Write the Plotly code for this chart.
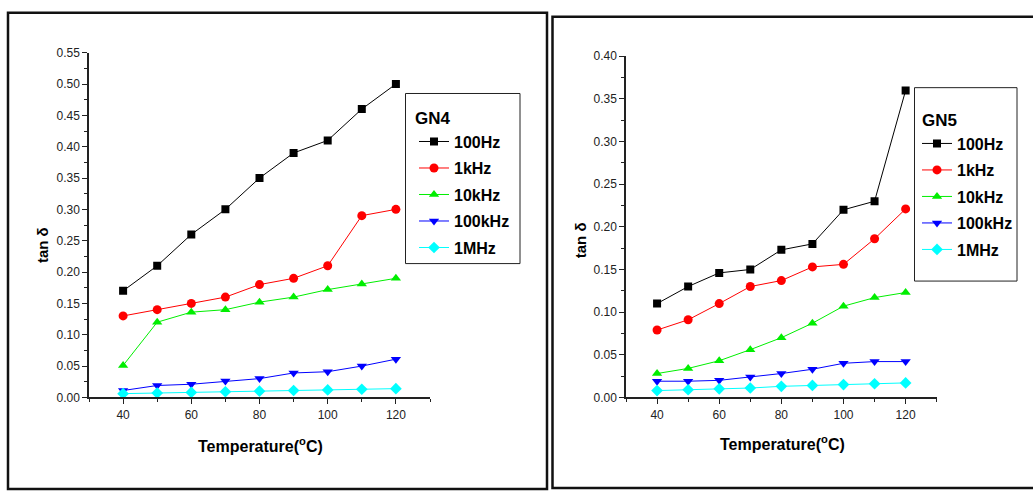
import plotly.graph_objects as go

W, H = 1033, 498

temps = [40, 50, 60, 70, 80, 90, 100, 110, 120]
series_names = ["100Hz", "1kHz", "10kHz", "100kHz", "1MHz"]

gn4_100Hz = [0.17, 0.21, 0.26, 0.30, 0.35, 0.39, 0.41, 0.46, 0.50]
gn4_1kHz = [0.13, 0.14, 0.15, 0.16, 0.18, 0.19, 0.21, 0.29, 0.30]
gn4_10kHz = [0.051, 0.120, 0.136, 0.140, 0.152, 0.160, 0.172, 0.181, 0.190]
gn4_100kHz = [0.011, 0.019, 0.021, 0.026, 0.030, 0.039, 0.041, 0.050, 0.061]
gn4_1MHz = [0.006, 0.007, 0.008, 0.009, 0.010, 0.011, 0.012, 0.013, 0.014]

gn5_100Hz = [0.110, 0.130, 0.146, 0.150, 0.173, 0.180, 0.220, 0.230, 0.360]
gn5_1kHz = [0.079, 0.091, 0.110, 0.130, 0.137, 0.153, 0.156, 0.186, 0.221]
gn5_10kHz = [0.028, 0.034, 0.043, 0.056, 0.070, 0.087, 0.107, 0.117, 0.123]
gn5_100kHz = [0.019, 0.019, 0.020, 0.024, 0.028, 0.033, 0.040, 0.042, 0.042]
gn5_1MHz = [0.008, 0.009, 0.010, 0.011, 0.013, 0.014, 0.015, 0.016, 0.017]

colors = ["#000000", "#ff0000", "#00ee00", "#0000ff", "#00ffff"]
symbols = ["square", "circle", "triangle-up", "triangle-down", "diamond"]
msizes = [8, 9, 9, 9, 9]

gn4 = [gn4_100Hz, gn4_1kHz, gn4_10kHz, gn4_100kHz, gn4_1MHz]
gn5 = [gn5_100Hz, gn5_1kHz, gn5_10kHz, gn5_100kHz, gn5_1MHz]

FONT = "Liberation Sans, Arial, sans-serif"


def px(x):
    return x / W


def py(y):
    return 1 - y / H


fig = go.Figure()

for i, name in enumerate(series_names):
    fig.add_trace(go.Scatter(
        x=temps, y=gn4[i], name=name, mode="lines+markers",
        line=dict(color=colors[i], width=1),
        marker=dict(symbol=symbols[i], size=msizes[i], color=colors[i]),
        xaxis="x", yaxis="y", legend="legend", legendgroup="a%d" % i))
for i, name in enumerate(series_names):
    fig.add_trace(go.Scatter(
        x=temps, y=gn5[i], name=name, mode="lines+markers",
        line=dict(color=colors[i], width=1),
        marker=dict(symbol=symbols[i], size=msizes[i], color=colors[i]),
        xaxis="x2", yaxis="y2", legend="legend2", legendgroup="b%d" % i))

axis_common = dict(
    showline=True, linecolor="#222222", linewidth=1.5, mirror=False,
    showgrid=False, zeroline=False, ticks="outside", ticklen=5,
    tickwidth=1, tickcolor="#222222",
    tickfont=dict(family=FONT, size=12, color="#222222"),
)

xcommon = dict(axis_common, range=[30, 130], tickmode="array",
               tickvals=[40, 60, 80, 100, 120],
               minor=dict(tickmode="array", tickvals=[30, 50, 70, 90, 110, 130],
                          ticklen=3, ticks="outside", tickcolor="#222222"))

leg_font = dict(family=FONT, size=16, color="black", weight="bold")

fig.update_layout(
    width=W, height=H, autosize=False, margin=dict(l=0, r=0, t=0, b=0),
    paper_bgcolor="white", plot_bgcolor="white",
    xaxis=dict(xcommon, domain=[px(89), px(430)], anchor="y"),
    yaxis=dict(axis_common, domain=[py(401.7), py(47)], anchor="x",
               range=[0, 0.55], dtick=0.05, tickformat=".2f",
               minor=dict(dtick=0.025, ticklen=3, ticks="outside", tickcolor="#222222")),
    xaxis2=dict(xcommon, domain=[px(626), px(936.7)], anchor="y2"),
    yaxis2=dict(axis_common, domain=[py(401.7), py(50.7)], anchor="x2",
                range=[0, 0.40], dtick=0.05, tickformat=".2f",
                minor=dict(dtick=0.025, ticklen=3, ticks="outside", tickcolor="#222222")),
    legend=dict(x=px(414), y=py(121), xanchor="left", yanchor="top",
                bgcolor="rgba(0,0,0,0)", borderwidth=0, font=leg_font,
                itemwidth=30, tracegroupgap=2.7, itemclick=False, itemdoubleclick=False),
    legend2=dict(x=px(917), y=py(123), xanchor="left", yanchor="top",
                 bgcolor="rgba(0,0,0,0)", borderwidth=0, font=leg_font,
                 itemwidth=30, tracegroupgap=2.7, itemclick=False, itemdoubleclick=False),
    showlegend=True,
)

shapes = [
    dict(type="rect", xref="paper", yref="paper", x0=px(8), x1=px(547), y0=py(496), y1=py(6),
         line=dict(color="#111111", width=2.5), fillcolor="rgba(0,0,0,0)", layer="below"),
    dict(type="rect", xref="paper", yref="paper", x0=px(552.5), x1=px(1040), y0=py(495), y1=py(10),
         line=dict(color="#111111", width=2.5), fillcolor="rgba(0,0,0,0)", layer="below"),
    dict(type="rect", xref="paper", yref="paper", x0=px(405.5), x1=px(520), y0=py(264), y1=py(89),
         line=dict(color="#222222", width=1), fillcolor="rgba(0,0,0,0)", layer="below"),
    dict(type="rect", xref="paper", yref="paper", x0=px(914.5), x1=px(1017), y0=py(282), y1=py(83),
         line=dict(color="#222222", width=1), fillcolor="rgba(0,0,0,0)", layer="below"),
]
fig.update_layout(shapes=shapes)

title_font = dict(family=FONT, size=16, color="black", weight="bold")
gn_font = dict(family=FONT, size=17, color="black", weight="bold")
annotations = [
    dict(text="GN4", x=px(413), y=py(115), xref="paper", yref="paper",
         showarrow=False, font=gn_font, xanchor="left", yanchor="middle"),
    dict(text="GN5", x=px(920), y=py(117), xref="paper", yref="paper",
         showarrow=False, font=gn_font, xanchor="left", yanchor="middle"),
    dict(text="Temperature(<sup>o</sup>C)", x=px(260), y=py(451), xref="paper", yref="paper",
         showarrow=False, font=title_font, xanchor="center", yanchor="middle"),
    dict(text="Temperature(<sup>o</sup>C)", x=px(782), y=py(449), xref="paper", yref="paper",
         showarrow=False, font=title_font, xanchor="center", yanchor="middle"),
    dict(text="tan δ", x=px(42), y=py(245), xref="paper", yref="paper", textangle=-90,
         showarrow=False, font=dict(family=FONT, size=15, color="black", weight="bold"),
         xanchor="center", yanchor="middle"),
    dict(text="tan δ", x=px(580), y=py(240), xref="paper", yref="paper", textangle=-90,
         showarrow=False, font=dict(family=FONT, size=15, color="black", weight="bold"),
         xanchor="center", yanchor="middle"),
]
fig.update_layout(annotations=annotations)

post = ("document.body.style.margin='0';document.body.style.padding='0';"
        "document.documentElement.style.overflow='hidden';"
        "var d=document.getElementById('{plot_id}');"
        "d.style.position='fixed';d.style.top='0px';d.style.left='0px';")
fig.write_html("out.html", post_script=post,
               config={"displayModeBar": False, "responsive": False})
